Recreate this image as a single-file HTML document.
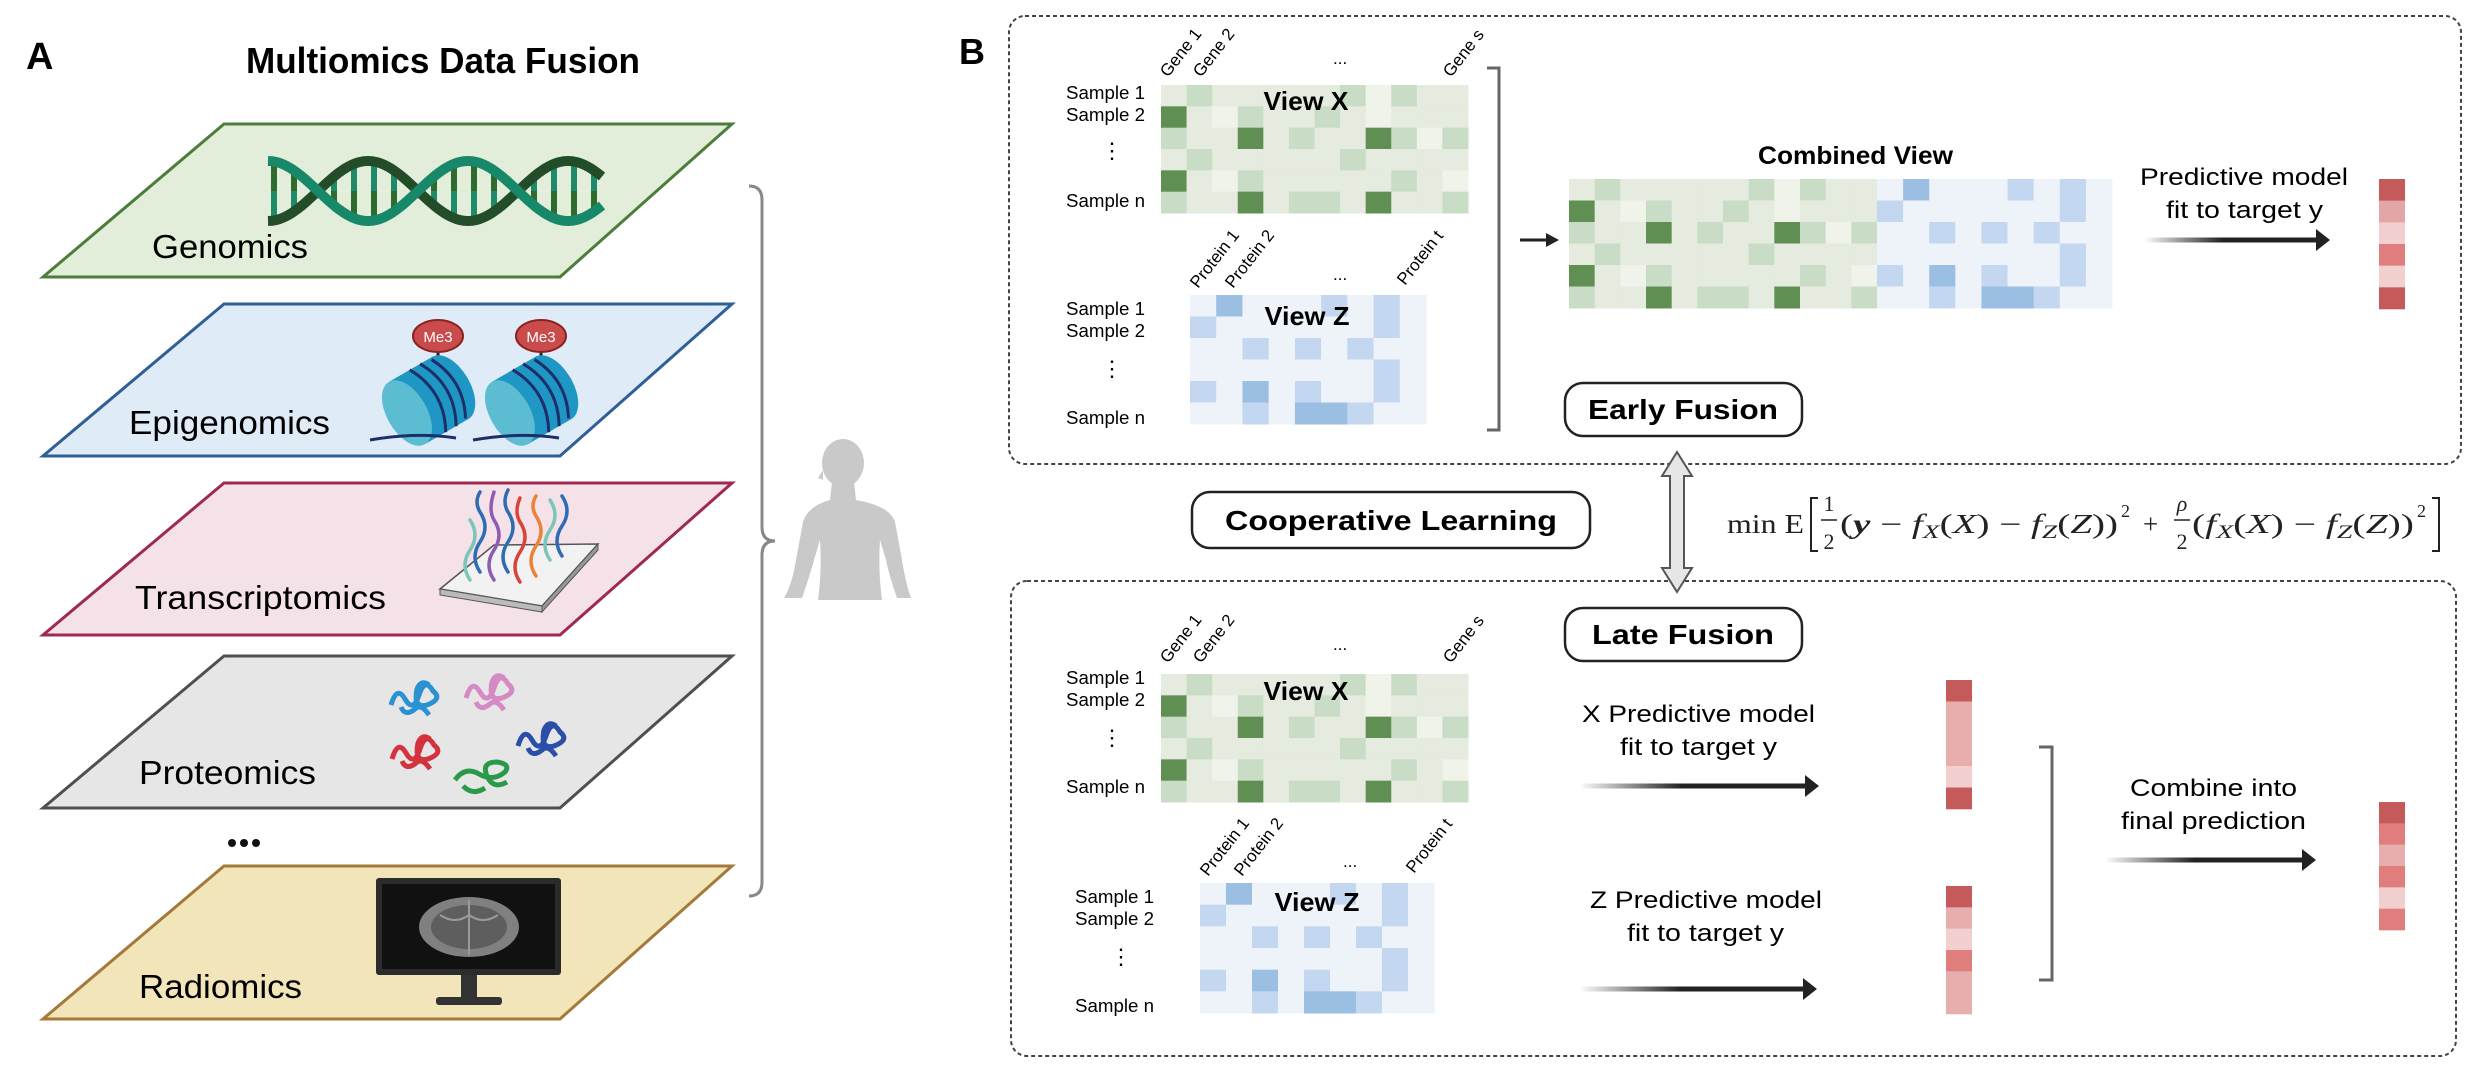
<!DOCTYPE html>
<html><head><meta charset="utf-8">
<style>
html,body{margin:0;padding:0;background:#fff;}
svg{display:block;}
text{font-family:"Liberation Sans",sans-serif;}
.serif{font-family:"Liberation Serif",serif;}
</style></head>
<body>
<svg id="fig" xmlns="http://www.w3.org/2000/svg" width="2468" height="1090" viewBox="0 0 2468 1090">
<rect x="0" y="0" width="2468" height="1090" fill="#fff"/>

<!-- PANEL A -->
<g>
<text x="26" y="69" font-size="38" font-weight="bold">A</text>
<text x="246" y="73" font-size="36" font-weight="bold" textLength="394" lengthAdjust="spacingAndGlyphs">Multiomics Data Fusion</text>

<polygon points="224,124 732,124 560,277 43,277" fill="#e2eed9" stroke="#4d7d3a" stroke-width="3"/>
<polygon points="224,304 732,304 560,456 43,456" fill="#dfebf6" stroke="#2e5f96" stroke-width="3"/>
<polygon points="224,483 732,483 560,635 43,635" fill="#f5e2e8" stroke="#9e2a50" stroke-width="3"/>
<polygon points="224,656 732,656 560,808 43,808" fill="#e6e6e6" stroke="#4f4f4f" stroke-width="3"/>
<polygon points="224,866 732,866 560,1019 43,1019" fill="#f1e5b9" stroke="#a5793a" stroke-width="3"/>

<text x="152" y="258" font-size="33" textLength="156" lengthAdjust="spacingAndGlyphs">Genomics</text>
<text x="129" y="434" font-size="33" textLength="201" lengthAdjust="spacingAndGlyphs">Epigenomics</text>
<text x="135" y="609" font-size="33" textLength="251" lengthAdjust="spacingAndGlyphs">Transcriptomics</text>
<text x="139" y="784" font-size="33" textLength="177" lengthAdjust="spacingAndGlyphs">Proteomics</text>
<text x="139" y="998" font-size="33" textLength="163" lengthAdjust="spacingAndGlyphs">Radiomics</text>

<g fill="#111">
<circle cx="232" cy="843" r="4"/><circle cx="244" cy="843" r="4"/><circle cx="256" cy="843" r="4"/>
</g>

<g id="dna"></g>

<g>
 <g transform="translate(426,402)">
  <line x1="12" y1="-66" x2="12" y2="-32" stroke="#222" stroke-width="3"/>
  <ellipse cx="12" cy="-66" rx="25" ry="16" fill="#c94b4b" stroke="#8b2222" stroke-width="2"/>
  <text x="12" y="-60" font-size="15" fill="#fff" text-anchor="middle">Me3</text>
  <g transform="rotate(-30)">
   <rect x="-22" y="-36" width="50" height="72" fill="#1f97c4"/>
   <ellipse cx="28" cy="0" rx="20" ry="36" fill="#1f97c4"/>
   <ellipse cx="-22" cy="0" rx="20" ry="36" fill="#5cbdd2"/>
   <path d="M2,-36 Q22,0 2,36 M14,-36 Q34,0 14,36 M26,-34 Q44,0 26,34" fill="none" stroke="#1d2f6b" stroke-width="3"/>
  </g>
  <path d="M-56,38 Q-10,30 30,36" fill="none" stroke="#1d2f6b" stroke-width="3"/>
 </g>
 <g transform="translate(529,402)">
  <line x1="12" y1="-66" x2="12" y2="-32" stroke="#222" stroke-width="3"/>
  <ellipse cx="12" cy="-66" rx="25" ry="16" fill="#c94b4b" stroke="#8b2222" stroke-width="2"/>
  <text x="12" y="-60" font-size="15" fill="#fff" text-anchor="middle">Me3</text>
  <g transform="rotate(-30)">
   <rect x="-22" y="-36" width="50" height="72" fill="#1f97c4"/>
   <ellipse cx="28" cy="0" rx="20" ry="36" fill="#1f97c4"/>
   <ellipse cx="-22" cy="0" rx="20" ry="36" fill="#5cbdd2"/>
   <path d="M2,-36 Q22,0 2,36 M14,-36 Q34,0 14,36 M26,-34 Q44,0 26,34" fill="none" stroke="#1d2f6b" stroke-width="3"/>
  </g>
  <path d="M-56,38 Q-10,30 30,36" fill="none" stroke="#1d2f6b" stroke-width="3"/>
 </g>
</g>

<g>
 <polygon points="440,589 494,545 598,544 542,606" fill="#f2f2f2" stroke="#555" stroke-width="1.5"/>
 <polygon points="440,589 542,606 542,612 440,595" fill="#bbb" stroke="#555" stroke-width="1"/>
 <polygon points="542,606 598,544 598,550 542,612" fill="#999" stroke="#555" stroke-width="1"/>
 <g fill="none" stroke-width="3.5" stroke-linecap="round">
  <path d="M470,580 q-10,-15 0,-30 q10,-15 0,-30" stroke="#7ac6b9"/>
  <path d="M480,572 q-10,-15 0,-30 q10,-15 0,-30 q-6,-10 0,-20" stroke="#2f6cb3"/>
  <path d="M494,580 q-10,-15 0,-30 q10,-15 0,-30 q-6,-10 0,-28" stroke="#8e5bb5"/>
  <path d="M508,572 q-10,-15 0,-30 q10,-15 0,-30 q-6,-10 0,-22" stroke="#2f6cb3"/>
  <path d="M520,582 q-10,-15 0,-30 q10,-15 0,-30 q-6,-10 0,-24" stroke="#d9443a"/>
  <path d="M536,576 q-10,-15 0,-30 q10,-15 0,-30 q-6,-10 0,-20" stroke="#e9833a"/>
  <path d="M550,560 q-10,-15 0,-30 q10,-15 0,-30" stroke="#7ac6b9"/>
  <path d="M562,556 q-10,-15 0,-30 q10,-15 0,-30" stroke="#2f6cb3"/>
 </g>
</g>

<g fill="none" stroke-width="5">
 <g stroke="#2a92d2" transform="translate(415,697)"><path d="M-24,8 q6,-20 14,-6 q8,14 14,-4 q6,-18 14,-4 q10,8 -6,14 q-14,4 -10,-16 q4,-10 12,-4 M-14,10 q4,10 14,2 q6,-6 14,6"/></g>
 <g stroke="#d58ac4" transform="translate(490,692)"><path d="M-24,6 q6,-20 14,-6 q8,14 14,-4 q6,-18 14,-4 q10,8 -6,14 q-14,4 -10,-16 q4,-10 12,-4 M-14,10 q4,10 14,2 q6,-6 14,6"/></g>
 <g stroke="#2b4fa9" transform="translate(542,738)"><path d="M-24,8 q6,-20 14,-6 q8,14 14,-4 q6,-18 14,-4 q10,8 -6,14 q-14,4 -10,-16 q4,-10 12,-4 M-14,10 q4,10 14,2 q6,-6 14,6"/></g>
 <g stroke="#d4323d" transform="translate(416,751)"><path d="M-24,8 q6,-20 14,-6 q8,14 14,-4 q6,-18 14,-4 q10,8 -6,14 q-14,4 -10,-16 q4,-10 12,-4 M-14,10 q4,10 14,2 q6,-6 14,6"/></g>
 <g stroke="#2a9a4a" transform="translate(483,776)"><path d="M-28,4 q10,-14 24,-6 q14,8 26,-2 q6,-8 -8,-10 q-16,0 -10,14 q6,14 20,6 M-20,10 q10,10 22,2"/></g>
</g>

<g>
 <rect x="376" y="878" width="185" height="97" rx="3" fill="#2b2b2b"/>
 <rect x="382" y="884" width="173" height="85" fill="#111"/>
 <ellipse cx="469" cy="927" rx="50" ry="30" fill="#808080"/>
 <ellipse cx="469" cy="927" rx="38" ry="22" fill="#5e5e5e"/>
 <path d="M469,900 L469,955 M440,915 q15,10 29,0 q14,10 29,0" stroke="#9a9a9a" stroke-width="2" fill="none"/>
 <rect x="461" y="975" width="16" height="22" fill="#333"/>
 <rect x="436" y="997" width="66" height="8" rx="3" fill="#333"/>
</g>

<path d="M749,186 Q762,186 762,200 L762,527 Q762,541 775,541 Q762,541 762,555 L762,882 Q762,896 749,896" fill="none" stroke="#888" stroke-width="3"/>

<g fill="#c9c9c9">
 <ellipse cx="843" cy="463" rx="21" ry="24"/>
 <path d="M832,482 L854,482 L856,500 Q890,506 895,522 L902,560 Q906,585 911,598 L897,598 Q889,575 886,560 L880,540 Q878,570 882,600 L818,600 Q822,570 820,540 L814,560 Q810,575 802,598 L784,598 Q792,585 796,560 L803,522 Q808,506 830,500 Z"/>
 <path d="M823,470 L818,478 L823,480 Z"/>
</g>
</g>

<!-- PANEL B -->
<g>
<text x="959" y="64" font-size="36" font-weight="bold">B</text>

<rect x="1009" y="16" width="1452" height="448" rx="16" fill="none" stroke="#444" stroke-width="2" stroke-dasharray="4 3"/>
<rect x="1011" y="581" width="1445" height="475" rx="16" fill="none" stroke="#444" stroke-width="2" stroke-dasharray="4 3"/>

<g id="heatmaps"></g>

<path d="M1487,68 L1499,68 L1499,430 L1487,430" fill="none" stroke="#666" stroke-width="3"/>
<path d="M2039,747 L2052,747 L2052,980 L2039,980" fill="none" stroke="#666" stroke-width="3"/>

<defs>
 <linearGradient id="ag" x1="0" x2="1" y1="0" y2="0">
  <stop offset="0" stop-color="#222" stop-opacity="0"/>
  <stop offset="0.45" stop-color="#222" stop-opacity="1"/>
  <stop offset="1" stop-color="#222" stop-opacity="1"/>
 </linearGradient>
</defs>

<g>
 <line x1="1520" y1="240" x2="1548" y2="240" stroke="#222" stroke-width="3"/>
 <polygon points="1546,233 1559,240 1546,247" fill="#222"/>
</g>
<g id="arrows"></g>

<text x="1758" y="164" font-size="25" font-weight="bold" textLength="195" lengthAdjust="spacingAndGlyphs">Combined View</text>
<text x="2140" y="185" font-size="24" textLength="208" lengthAdjust="spacingAndGlyphs">Predictive model</text>
<text x="2166" y="218" font-size="24" textLength="157" lengthAdjust="spacingAndGlyphs">fit to target y</text>

<rect x="1565" y="383" width="237" height="53" rx="18" fill="#fff" stroke="#222" stroke-width="2.5"/>
<text x="1683" y="419" font-size="28" font-weight="bold" text-anchor="middle" textLength="190" lengthAdjust="spacingAndGlyphs">Early Fusion</text>

<rect x="1565" y="608" width="237" height="53" rx="18" fill="#fff" stroke="#222" stroke-width="2.5"/>
<text x="1683" y="644" font-size="28" font-weight="bold" text-anchor="middle" textLength="182" lengthAdjust="spacingAndGlyphs">Late Fusion</text>

<rect x="1192" y="492" width="398" height="56" rx="18" fill="#fff" stroke="#222" stroke-width="2.5"/>
<text x="1391" y="530" font-size="28" font-weight="bold" text-anchor="middle" textLength="332" lengthAdjust="spacingAndGlyphs">Cooperative Learning</text>

<polygon points="1677,452 1692,476 1684,476 1684,568 1692,568 1677,592 1662,568 1670,568 1670,476 1662,476" fill="#e6e6e6" stroke="#555" stroke-width="2"/>

<g class="serif" font-size="27" fill="#222">
 <text x="1727" y="533" class="serif" textLength="77" lengthAdjust="spacingAndGlyphs">min E</text>
 <path d="M1818,498 L1811,498 L1811,551 L1818,551" fill="none" stroke="#222" stroke-width="2"/>
 <text x="1829" y="511" class="serif" font-size="22" text-anchor="middle">1</text>
 <line x1="1821" y1="520" x2="1837" y2="520" stroke="#222" stroke-width="1.5"/>
 <text x="1829" y="549" class="serif" font-size="22" text-anchor="middle">2</text>
 <text x="1840" y="533" class="serif" textLength="278" lengthAdjust="spacingAndGlyphs">(<tspan font-weight="bold" font-style="italic">y</tspan> − <tspan font-style="italic">f</tspan><tspan font-size="19" dy="5" font-style="italic">X</tspan><tspan dy="-5">(</tspan><tspan font-style="italic">X</tspan>) − <tspan font-style="italic">f</tspan><tspan font-size="19" dy="5" font-style="italic">Z</tspan><tspan dy="-5">(</tspan><tspan font-style="italic">Z</tspan>))</text>
 <text x="2121" y="517" class="serif" font-size="18">2</text>
 <text x="2143" y="533" class="serif">+</text>
 <text x="2182" y="511" class="serif" font-size="22" text-anchor="middle" font-style="italic">ρ</text>
 <line x1="2174" y1="520" x2="2190" y2="520" stroke="#222" stroke-width="1.5"/>
 <text x="2182" y="549" class="serif" font-size="22" text-anchor="middle">2</text>
 <text x="2192" y="533" class="serif" textLength="222" lengthAdjust="spacingAndGlyphs">(<tspan font-style="italic">f</tspan><tspan font-size="19" dy="5" font-style="italic">X</tspan><tspan dy="-5">(</tspan><tspan font-style="italic">X</tspan>) − <tspan font-style="italic">f</tspan><tspan font-size="19" dy="5" font-style="italic">Z</tspan><tspan dy="-5">(</tspan><tspan font-style="italic">Z</tspan>))</text>
 <text x="2417" y="517" class="serif" font-size="18">2</text>
 <path d="M2432,498 L2439,498 L2439,551 L2432,551" fill="none" stroke="#222" stroke-width="2"/>
</g>

<text x="1582" y="722" font-size="24" textLength="233" lengthAdjust="spacingAndGlyphs">X Predictive model</text>
<text x="1620" y="755" font-size="24" textLength="157" lengthAdjust="spacingAndGlyphs">fit to target y</text>
<text x="1590" y="908" font-size="24" textLength="232" lengthAdjust="spacingAndGlyphs">Z Predictive model</text>
<text x="1627" y="941" font-size="24" textLength="157" lengthAdjust="spacingAndGlyphs">fit to target y</text>
<text x="2130" y="796" font-size="24" textLength="167" lengthAdjust="spacingAndGlyphs">Combine into</text>
<text x="2121" y="829" font-size="24" textLength="185" lengthAdjust="spacingAndGlyphs">final prediction</text>

<g id="bars"></g>
</g>
</svg>

<script>
const viewX = [
 [0,1,0,0,0,0,0,1,3,1,0,0],
 [2,0,3,1,0,0,1,0,3,0,0,0],
 [1,0,0,2,0,1,0,0,2,1,3,1],
 [0,1,0,0,0,0,0,1,0,0,0,0],
 [2,0,3,1,0,0,0,0,0,1,0,3],
 [1,0,0,2,0,1,1,0,2,0,0,1]
];
const viewZ = [
 [0,2,0,0,0,1,0,1,0],
 [1,0,0,0,0,0,0,1,0],
 [0,0,1,0,1,0,1,0,0],
 [0,0,0,0,0,0,0,1,0],
 [1,0,2,0,1,0,0,1,0],
 [0,0,1,0,2,2,1,0,0]
];
const rowLabels = ["Sample 1","Sample 2","⋮","Sample n"];
const geneLabels = ["Gene 1","Gene 2","...","Gene s"];
const proteinLabels = ["Protein 1","Protein 2","...","Protein t"];
const predEarly = [0,1,3,4,3,0];
const predX = [0,2,2,2,3,0];
const predZ = [0,2,3,4,2,2];
const predFinal = [0,4,2,4,3,4];

const greenPal = ["#e5ebdf","#c9dcc6","#5f8f53","#eff3ea"];
const bluePal = ["#eef3f9","#c3d8f0","#9bbfe3"];
const redPal = ["#c45a5a","#e2a6a6","#e8adad","#f2d0d0","#e07e7e"];
const NS = "http://www.w3.org/2000/svg";
function mk(tag, attrs, parent){
  const e = document.createElementNS(NS, tag);
  for (const k in attrs) e.setAttribute(k, attrs[k]);
  parent.appendChild(e); return e;
}
const hm = document.getElementById("heatmaps");

function heat(x0,y0,w,h,mat,pal,name){
  const g = mk("g",{},hm);
  
  
  const rows = mat.length, cols = mat[0].length;
  const cw = w/cols, rh = h/rows;
  mat.forEach((r,i)=>r.forEach((v,j)=>{
    const c = mk("rect",{x:x0+j*cw,y:y0+i*rh,width:cw+0.5,height:rh+0.5,fill:pal[v]},g);
    
    
  }));
}
function rowLab(x,ys,name){
  rowLabels.forEach((t,i)=>{
    const el = mk("text",{x:(t==="⋮"?x+35:x),y:ys[i],"font-size":(t==="⋮"?22:18)},hm);
    if(t!=="⋮"){el.setAttribute("textLength","79");el.setAttribute("lengthAdjust","spacingAndGlyphs");}
    el.textContent = t;
    
    
  });
}
function colLab(labels,pos,name){
  labels.forEach((t,i)=>{
    const [x,y] = pos[i];
    const el = mk("text",{x:x,y:y,"font-size":17,transform:(t==="..."?"":`rotate(-52 ${x} ${y})`)},hm);
    el.textContent = t;
    
    
  });
}
function viewTitle(t,x,y){
  const el = mk("text",{x:x,y:y,"font-size":26,"font-weight":"bold","text-anchor":"middle",textLength:85,lengthAdjust:"spacingAndGlyphs"},hm);
  el.textContent = t;
  
  
}

heat(1161,85,307,128,viewX,greenPal,"early-view-x-heatmap");
viewTitle("View X",1306,110);
rowLab(1066,[99,121,158,207],"early-x-row-label");
colLab(geneLabels,[[1168,78],[1201,78],[1333,64],[1451,78]],"early-gene-label");
heat(1190,295,236,129,viewZ,bluePal,"early-view-z-heatmap");
viewTitle("View Z",1307,325);
rowLab(1066,[315,337,376,424],"early-z-row-label");
colLab(proteinLabels,[[1198,289],[1233,289],[1333,280],[1405,286]],"early-protein-label");
heat(1569,179,308,129,viewX,greenPal,"combined-view-genes");
heat(1877,179,235,129,viewZ,bluePal,"combined-view-proteins");

heat(1161,674,307,128,viewX,greenPal,"late-view-x-heatmap");
viewTitle("View X",1306,700);
rowLab(1066,[684,706,745,793],"late-x-row-label");
colLab(geneLabels,[[1168,664],[1201,664],[1333,650],[1451,664]],"late-gene-label");
heat(1200,883,234,130,viewZ,bluePal,"late-view-z-heatmap");
viewTitle("View Z",1317,911);
rowLab(1075,[903,925,964,1012],"late-z-row-label");
colLab(proteinLabels,[[1208,877],[1242,877],[1343,867],[1414,874]],"late-protein-label");

const bars = document.getElementById("bars");
function predBar(x,y0,h,vals,name){
  const g = mk("g",{},bars);
  
  
  const ch = h/vals.length;
  vals.forEach((v,i)=>{
    const r = mk("rect",{x:x,y:y0+i*ch,width:26,height:ch+0.3,fill:redPal[v]},g);
    
    
  });
}
predBar(2379,179,130,predEarly,"early-prediction-bar");
predBar(1946,680,129,predX,"x-prediction-bar");
predBar(1946,886,128,predZ,"z-prediction-bar");
predBar(2379,802,128,predFinal,"final-prediction-bar");

const arrows = document.getElementById("arrows");
function garrow(x1,x2,y,name){
  const g = mk("g",{},arrows);
  
  
  mk("rect",{x:x1,y:y-2.5,width:x2-x1-12,height:5,fill:"url(#ag)"},g);
  mk("polygon",{points:`${x2-14},${y-11} ${x2},${y} ${x2-14},${y+11}`,fill:"#222"},g);
}
garrow(2144,2330,240,"early-model-arrow");
garrow(1579,1819,786,"x-model-arrow");
garrow(1579,1817,989,"z-model-arrow");
garrow(2105,2316,860,"combine-arrow");

const dna = document.getElementById("dna");
const x0=268,x1=603,yc=191,amp=30,per=200;
let p1="",p2="";
for(let x=x0;x<=x1;x+=2){
  const a=(x-x0)/per*2*Math.PI;
  p1+=(x===x0?"M":"L")+x+","+(yc+amp*Math.cos(a));
  p2+=(x===x0?"M":"L")+x+","+(yc-amp*Math.cos(a));
}
for(let x=x0+6;x<x1;x+=20){
  const a=(x-x0)/per*2*Math.PI;
  const ya=yc+amp*Math.cos(a), yb=yc-amp*Math.cos(a);
  const ym=(ya+yb)/2;
  mk("line",{x1:x,y1:ya,x2:x,y2:ym,stroke:"#1f8a6a","stroke-width":6},dna);
  mk("line",{x1:x,y1:ym,x2:x,y2:yb,stroke:"#2f6a2e","stroke-width":6},dna);
}
mk("path",{d:p1,fill:"none",stroke:"#234d28","stroke-width":10},dna);
mk("path",{d:p2,fill:"none",stroke:"#17886a","stroke-width":10},dna);
</script>
</body></html>
